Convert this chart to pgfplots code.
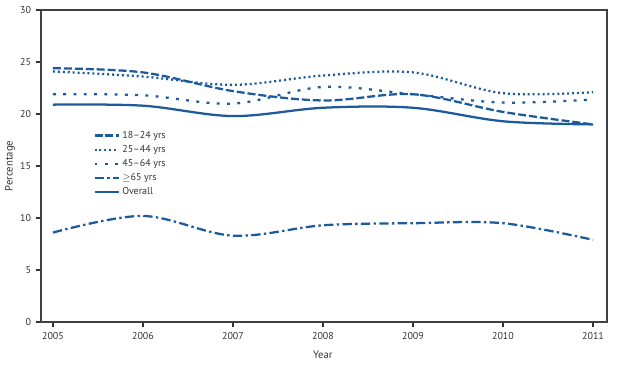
\documentclass[border=0pt]{standalone}
\usepackage{pgfplots}
\pgfplotsset{compat=1.18}
\usepackage{fontspec}
\setmainfont{PT Sans}
\definecolor{lineblue}{HTML}{1B5A9C}

\begin{document}
\begin{tikzpicture}
  \begin{axis}[at={(0,0)},anchor=south west,scale only axis,
    width=424.5pt,height=234pt,
    xmin=2004.867,xmax=2011.155,ymin=0,ymax=30,
    xtick={2005,...,2011},ytick={0,5,...,30},
    xticklabel style={/pgf/number format/1000 sep={}},
    /pgf/number format/assume math mode=true,
    tick label style={font=\fontsize{7.5}{9}\selectfont,text=black!80},
    label style={font=\fontsize{8}{10}\selectfont,text=black!80},
    xlabel={Year},ylabel={Percentage},
    xlabel style={at={(axis description cs:0.498,-0.106)},anchor=center},
    ylabel style={at={(axis description cs:-0.055,0.5)},anchor=center},
    axis line style={black!75,line width=1pt},
    tick style={black!80,line width=0.8pt},
    tick align=outside,tick pos=left,major tick length=4pt,
    legend style={at={(axis description cs:0.085,0.63)},anchor=north west,
      draw=none,fill=none,font=\fontsize{7.5}{9}\selectfont,
      row sep=-0.3pt,text=black!80},
    legend cell align=left,
    legend image code/.code={\draw[#1] (0pt,0pt) -- (18pt,0pt);},
    every axis plot/.append style={lineblue,line width=1.7pt,smooth,tension=0.55}]
    % 18-24 yrs
    \addplot[dash pattern=on 6pt off 2.2pt] coordinates {
      (2005,24.4) (2006,24.0) (2007,22.2) (2008,21.3) (2009,21.9) (2010,20.2) (2011,19.0)};
    \addlegendentry{18–24 yrs}
    % 25-44 yrs
    \addplot[dash pattern=on 1.5pt off 2.2pt] coordinates {
      (2005,24.1) (2006,23.6) (2007,22.8) (2008,23.7) (2009,24.0) (2010,22.0) (2011,22.1)};
    \addlegendentry{25–44 yrs}
    % 45-64 yrs
    \addplot[dash pattern=on 2.2pt off 5.5pt] coordinates {
      (2005,21.9) (2006,21.8) (2007,21.0) (2008,22.6) (2009,21.9) (2010,21.1) (2011,21.4)};
    \addlegendentry{45–64 yrs}
    % >=65 yrs
    \addplot[dash pattern=on 7pt off 2.5pt on 1.8pt off 2.5pt] coordinates {
      (2005,8.6) (2006,10.2) (2007,8.3) (2008,9.3) (2009,9.5) (2010,9.5) (2011,7.9)};
    \addlegendentry{$\geq$65 yrs}
    % Overall
    \addplot[solid] coordinates {
      (2005,20.9) (2006,20.8) (2007,19.8) (2008,20.6) (2009,20.6) (2010,19.3) (2011,19.0)};
    \addlegendentry{Overall}
  \end{axis}
  \path[use as bounding box] (-30.75pt,-32.25pt) rectangle (436.5pt,241.5pt);
\end{tikzpicture}
\end{document}
